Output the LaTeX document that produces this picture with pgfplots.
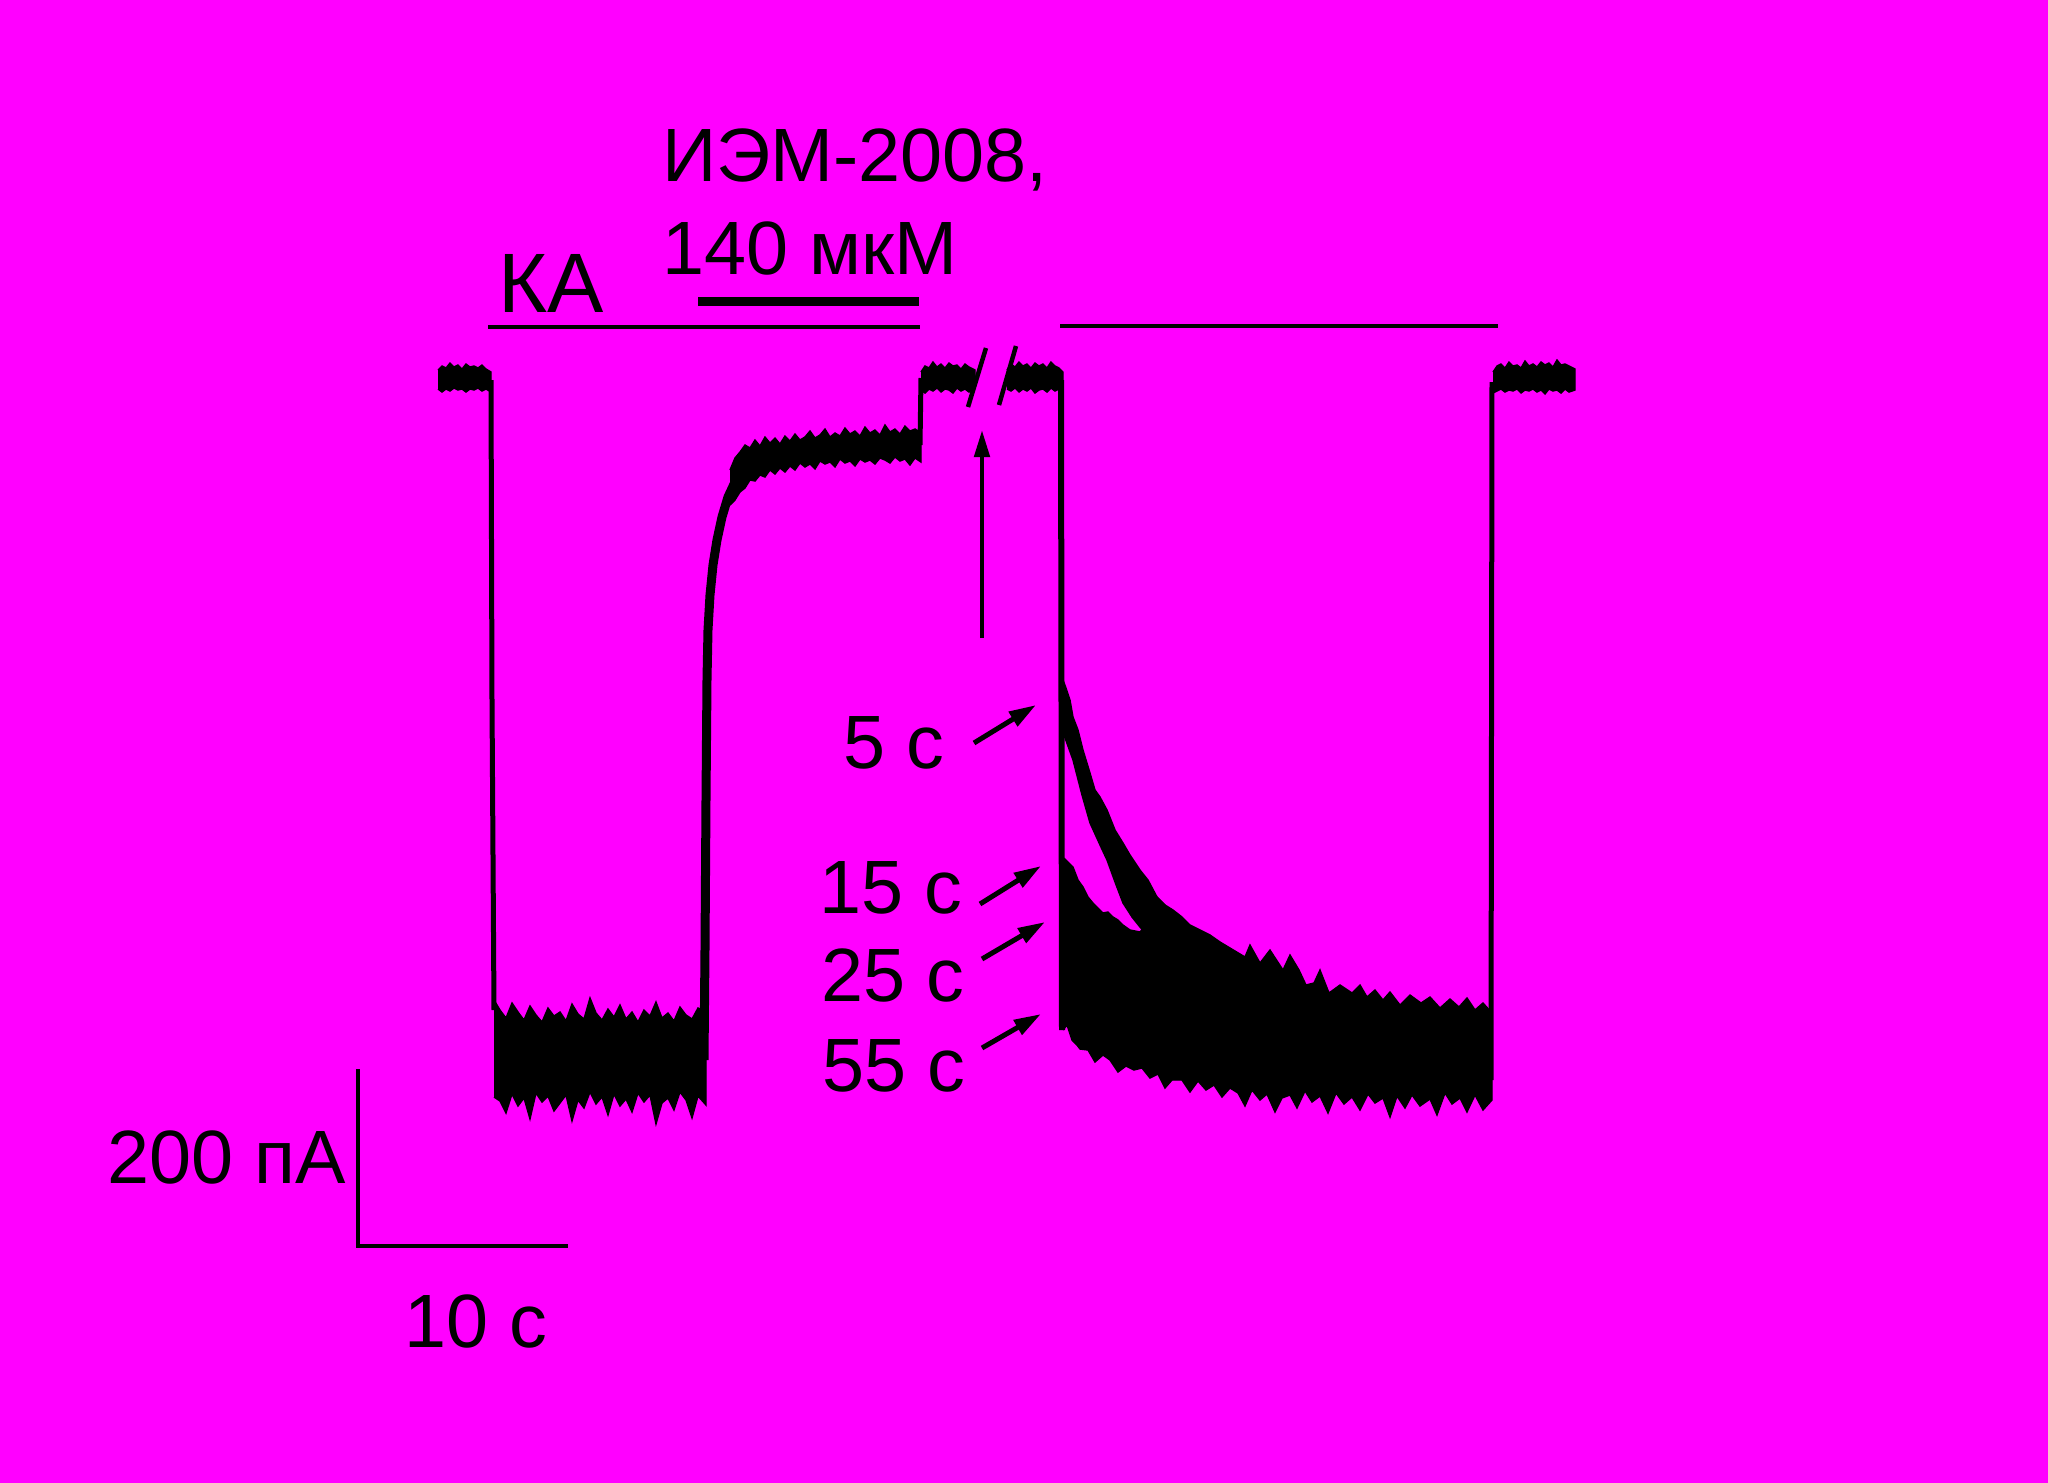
\documentclass[border=0pt]{standalone}
\usepackage{fontspec}
\setmainfont{Liberation Sans}
\usepackage{pgfplots}
\pgfplotsset{compat=1.18}
\usetikzlibrary{arrows.meta}
\definecolor{bg}{RGB}{255,0,255}
\newdimen\pxu \pxu=0.28453pt
\tikzset{band/.style={fill=black, draw=black, line width=0.4pt, mark=none},
         jump/.style={draw=black, fill=none, mark=none}}
\begin{document}
\begin{tikzpicture}
\begin{axis}[
  scale only axis, width=20.48cm, height=14.83cm,
  xmin=0, xmax=2048, ymin=0, ymax=1483, y dir=reverse,
  hide axis, clip=true,
]
\fill[bg] (axis cs:0,0) rectangle (axis cs:2048,1483);

% --- left baseline
\addplot[band] coordinates {(438,370)(442,366)(446,368)(450,363)(454,367)(458,365)(462,369)(466,364)(470,367)(474,366)(478,368)(482,365)(486,369)(491,372)
(491,392)(486,389)(482,391)(478,388)(474,390)(470,389)(466,392)(462,389)(458,390)(454,388)(450,391)(446,389)(442,392)(438,389)};
% --- KA response (bottom band)
\addplot[band] coordinates {(494,1000)(500,1010)(506,1018)(512,1003)(518,1012)(524,1020)(530,1006)(536,1015)(542,1022)(548,1008)(554,1016)(560,1012)(566,1021)(572,1004)(578,1014)(584,1019)(590,998)(596,1013)(602,1020)(608,1009)(614,1017)(620,1005)(626,1019)(632,1012)(638,1022)(644,1010)(650,1016)(656,1002)(662,1018)(668,1013)(674,1021)(680,1007)(686,1015)(692,1019)(698,1008)(706,1012)
(706,1105)(698,1096)(692,1118)(686,1100)(680,1092)(674,1110)(668,1098)(662,1103)(656,1124)(650,1095)(644,1102)(638,1093)(632,1112)(626,1099)(620,1106)(614,1094)(608,1115)(602,1097)(596,1104)(590,1092)(584,1108)(578,1100)(572,1121)(566,1095)(560,1103)(554,1111)(548,1096)(542,1102)(536,1093)(530,1119)(524,1098)(518,1106)(512,1094)(506,1113)(500,1101)(494,1097)};
% --- IEM block (upper band)
\addplot[band] coordinates {(730,470)(735,458)(740,452)(745,445)(750,448)(755,440)(760,446)(765,437)(770,443)(775,438)(780,444)(785,436)(790,441)(795,434)(800,440)(805,437)(810,431)(815,438)(820,435)(825,429)(830,437)(835,433)(840,436)(845,428)(850,434)(855,431)(860,436)(865,427)(870,433)(875,430)(880,435)(885,425)(890,432)(895,429)(900,434)(905,426)(910,431)(915,429)(921,433)
(921,462)(915,458)(910,465)(905,459)(900,461)(895,457)(890,463)(885,460)(880,458)(875,464)(870,460)(865,462)(860,459)(855,466)(850,461)(845,463)(840,459)(835,467)(830,462)(825,464)(820,461)(815,469)(810,464)(805,467)(800,463)(795,470)(790,466)(785,472)(780,468)(775,474)(770,470)(765,477)(760,475)(755,481)(750,480)(745,488)(740,492)(735,500)(730,505)};
% --- middle baselines
\addplot[band] coordinates {(921,372)(925,366)(929,368)(933,362)(937,367)(941,364)(945,368)(949,363)(953,366)(957,365)(961,369)(965,364)(969,367)(975,370)
(975,388)(969,392)(965,389)(961,391)(957,388)(953,393)(949,390)(945,389)(941,392)(937,388)(933,391)(929,389)(925,393)(921,390)};
\addplot[band] coordinates {(1007,370)(1011,364)(1015,367)(1019,362)(1023,366)(1027,364)(1031,368)(1035,363)(1039,366)(1043,364)(1047,368)(1051,362)(1055,366)(1059,368)(1063,372)
(1063,392)(1059,389)(1055,391)(1051,388)(1047,392)(1043,389)(1039,390)(1035,393)(1031,388)(1027,391)(1023,389)(1019,392)(1015,388)(1011,391)(1007,389)};
% --- 5 s trace (early part)
\addplot[band] coordinates {(1063,680)(1066,688)(1070,700)(1073,717)(1078,730)(1083,750)(1090,773)(1095,790)(1100,797)(1107,810)(1115,830)(1123,843)(1130,855)(1140,870)(1148,880)(1157,897)(1165,905)
(1165,945)(1150,938)(1140,927)(1132,917)(1123,903)(1115,882)(1107,860)(1100,845)(1090,823)(1082,795)(1073,760)(1064,735)};
% --- merged recovery traces (15, 25, 55 s and tail of 5 s)
\addplot[band] coordinates {(1064,858)(1068,862)(1073,867)(1078,880)(1083,887)(1088,897)(1093,903)(1098,908)(1103,913)(1108,912)(1113,917)(1118,920)(1123,925)(1130,930)(1140,932)(1150,920)(1157,897)(1165,905)(1173,910)(1182,917)(1190,925)(1200,930)(1210,935)(1220,942)(1230,948)(1245,957)(1250,945)(1260,963)(1270,950)(1283,970)(1290,955)(1299,970)(1306,985)(1314,983)(1320,970)(1329,993)(1340,985)(1352,993)(1360,985)(1367,997)(1375,990)(1383,1000)(1390,992)(1400,1005)(1410,995)(1421,1003)(1430,997)(1440,1008)(1450,999)(1459,1007)(1467,998)(1475,1010)(1483,1003)(1492,1013)
(1492,1100)(1483,1110)(1475,1095)(1467,1112)(1460,1098)(1452,1104)(1445,1093)(1437,1115)(1430,1099)(1420,1106)(1412,1095)(1405,1108)(1397,1096)(1390,1117)(1383,1098)(1375,1103)(1368,1094)(1360,1110)(1352,1097)(1344,1104)(1336,1093)(1328,1113)(1320,1096)(1312,1102)(1305,1091)(1297,1108)(1290,1095)(1282,1098)(1275,1112)(1267,1094)(1260,1100)(1252,1090)(1245,1106)(1238,1093)(1230,1088)(1222,1097)(1214,1085)(1206,1090)(1198,1081)(1190,1092)(1182,1080)(1172,1080)(1165,1088)(1158,1074)(1150,1078)(1142,1068)(1134,1070)(1126,1066)(1118,1072)(1110,1060)(1103,1055)(1095,1062)(1088,1050)(1080,1049)(1077,1045)(1072,1040)(1067,1025)(1063,1030)};
% --- final baseline
\addplot[band] coordinates {(1493,372)(1497,366)(1501,364)(1505,368)(1509,362)(1513,366)(1517,365)(1521,368)(1525,361)(1529,366)(1533,364)(1537,367)(1541,362)(1545,365)(1549,363)(1553,367)(1557,360)(1561,365)(1565,364)(1569,366)(1575,369)
(1575,390)(1569,392)(1565,389)(1561,393)(1557,390)(1553,391)(1549,389)(1545,394)(1541,390)(1537,392)(1533,389)(1529,391)(1525,390)(1521,393)(1517,389)(1513,391)(1509,390)(1505,392)(1501,389)(1497,391)(1493,393)};

% --- vertical transitions (current steps)
\addplot[jump, line width=5\pxu] coordinates {(491,380)(492,700)(494,1010)};
\addplot[jump, line width=9\pxu] coordinates {(704,1060)(705,950)(706,800)(707,680)(708,630)(710,595)(713,565)(717,540)(722,517)(728,497)(735,482)(745,468)(755,460)};
\addplot[jump, line width=5\pxu] coordinates {(920,445)(921,378)};
\addplot[jump, line width=6\pxu] coordinates {(1061,380)(1062,1030)};
\addplot[jump, line width=5\pxu] coordinates {(1491,1080)(1492,382)};

% --- break marks
\draw[line width=4.5\pxu] (axis cs:968,407) -- (axis cs:986,348);
\draw[line width=4.5\pxu] (axis cs:999,405) -- (axis cs:1016,346);

% --- application bars
\draw[line width=4\pxu] (axis cs:488,326.5) -- (axis cs:920,326.5);
\draw[line width=4\pxu] (axis cs:1060,326) -- (axis cs:1498,326);
\draw[line width=8.5\pxu] (axis cs:698,301.5) -- (axis cs:918.5,301.5);

% --- arrows
\draw[line width=4.5\pxu, -{Triangle[length=7.7pt,width=4.3pt]}] (axis cs:982,638) -- (axis cs:982,430);
\draw[line width=5\pxu, -{Triangle[length=7.7pt,width=4.6pt]}] (axis cs:974,743) -- (axis cs:1036,705);
\draw[line width=5\pxu, -{Triangle[length=7.7pt,width=4.6pt]}] (axis cs:980,904) -- (axis cs:1041,866);
\draw[line width=5\pxu, -{Triangle[length=7.7pt,width=4.6pt]}] (axis cs:982,959) -- (axis cs:1045,922);
\draw[line width=5\pxu, -{Triangle[length=7.7pt,width=4.6pt]}] (axis cs:982,1048) -- (axis cs:1041,1014);

% --- scale bar
\draw[line width=3.5\pxu] (axis cs:358,1069) -- (axis cs:358,1246) -- (axis cs:568,1246);

% --- texts
\begin{scope}[every node/.style={anchor=base, inner sep=0pt, font=\fontsize{21.5}{26}\selectfont}]
\node at (axis cs:855,181.5) {ИЭМ-2008,};
\node at (axis cs:810,274) {140 мкМ};
\node[font=\fontsize{24}{28}\selectfont] at (axis cs:551,312) {КА};
\node at (axis cs:227,1183) {200 пА};
\node at (axis cs:476,1347) {10 с};
\node at (axis cs:894,768) {5 с};
\node at (axis cs:891,913) {15 с};
\node at (axis cs:893,1001) {25 с};
\node at (axis cs:894,1091) {55 с};
\end{scope}
\end{axis}
\end{tikzpicture}
\end{document}
